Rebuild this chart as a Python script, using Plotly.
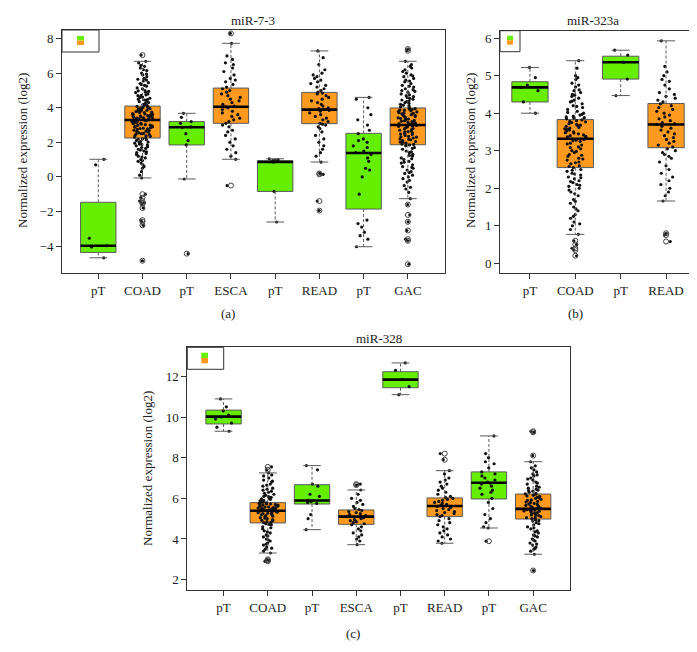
import plotly.graph_objects as go

FONT = "Liberation Serif, Times New Roman, serif"
GREEN = "#66EE00"
ORANGE = "#FF9A1F"
EDGE = "#5a5a5a"
W, H = 697, 652

# ---------------- Panel (a) miR-7-3 ----------------
a_categories = ["pT", "COAD", "pT", "ESCA", "pT", "READ", "pT", "GAC"]
a_kind = ["n", "t", "n", "t", "n", "t", "n", "t"]
a_lower = [-4.68, -0.06, -0.12, 1.02, -2.61, 0.86, -4.04, -1.26]
a_q1 = [-4.37, 2.25, 1.85, 3.10, -0.84, 3.08, -1.86, 1.86]
a_median = [-3.98, 3.29, 2.87, 4.06, 0.86, 3.89, 1.38, 3.00]
a_q3 = [-1.47, 4.10, 3.20, 5.14, 0.94, 4.89, 2.52, 3.99]
a_upper = [1.02, 6.69, 3.68, 7.73, 1.05, 7.29, 4.60, 6.69]

a_pt1 = [1.02, 0.7, -3.55, -3.98, -4.05, -4.68]
a_coad = [7.05, 6.69, 6.6, 6.4, 6.3, 6.2, 6.15, 6.0, 5.95, 5.8, 5.7, 5.6, 5.55, 5.4, 5.3, 5.25, 5.1, 5.0,
          4.95, 4.9, 4.8, 4.75, 4.7, 4.6, 4.55, 4.5, 4.45, 4.35, 4.3, 4.2, 4.15,
          4.08, 4.05, 4.0, 3.98, 3.95, 3.9, 3.88, 3.85, 3.8, 3.78, 3.75, 3.72, 3.7, 3.66, 3.62, 3.6, 3.57,
          3.55, 3.52, 3.5, 3.47, 3.45, 3.42, 3.4, 3.38, 3.35, 3.33, 3.3,
          3.27, 3.25, 3.22, 3.2, 3.15, 3.12, 3.1, 3.05, 3.02, 3.0, 2.95, 2.92, 2.9, 2.85, 2.82, 2.8, 2.75,
          2.7, 2.68, 2.65, 2.6, 2.55, 2.52, 2.5, 2.45, 2.4, 2.35, 2.3, 2.27,
          2.2, 2.15, 2.1, 2.05, 2.0, 1.95, 1.9, 1.85, 1.8, 1.7, 1.65, 1.6, 1.5, 1.45, 1.4, 1.3, 1.2, 1.1,
          1.0, 0.9, 0.8, 0.7, 0.5, 0.3, 0.1, -0.06, -1.0, -1.2, -1.4, -1.5, -1.55, -1.8, -2.5, -2.6, -2.8, -4.85]
a_coad_more = [6.45, 5.9, 5.65, 5.45, 5.35, 5.15, 4.98, 4.88, 4.72, 4.62, 4.48, 4.38, 4.25, 4.12, 4.02,
               3.93, 3.83, 3.73, 3.64, 3.53, 3.44, 3.36, 3.28, 3.18, 3.08, 2.98, 2.88, 2.78, 2.62,
               2.48, 2.38, 2.18, 2.02, 1.88, 1.75, 1.55, 1.35, 1.15, 0.95, 0.6]
a_pt2 = [3.68, 3.45, 3.2, 3.1, 2.9, 2.87, 2.5, 2.1, 1.85, -0.12, -4.44]
a_esca = [8.3, 7.73, 7.0, 6.8, 6.6, 6.5, 6.3, 6.1, 5.9, 5.7, 5.6, 5.5, 5.35, 5.2, 5.1, 5.0, 4.9, 4.8, 4.7,
          4.6, 4.5, 4.4, 4.3, 4.2, 4.1, 4.05, 4.0, 3.9, 3.8, 3.7, 3.6, 3.5, 3.4, 3.3, 3.2, 3.1, 3.0, 2.9,
          2.7, 2.6, 2.4, 2.2, 2.0, 1.8, 1.6, 1.4, 1.2, 1.02, -0.5]
a_pt3 = [1.05, 1.0, 0.97, 0.94, 0.9, 0.86, -0.84, -2.61]
a_read = [7.29, 6.9, 6.5, 6.2, 6.0, 5.9, 5.8, 5.7, 5.6, 5.5, 5.4, 5.3, 5.2, 5.1, 5.0, 4.9, 4.85, 4.8, 4.7,
          4.6, 4.5, 4.4, 4.3, 4.2, 4.1, 4.0, 3.95, 3.9, 3.85, 3.8, 3.7, 3.6, 3.5, 3.4, 3.3, 3.2, 3.1, 3.05,
          3.0, 2.9, 2.8, 2.6, 2.4, 2.2, 2.0, 1.8, 1.6, 1.4, 1.2, 0.86, 0.2, 0.15, -1.4, -1.95]
a_pt4 = [4.6, 4.5, 4.0, 3.6, 3.3, 3.0, 2.7, 2.5, 2.2, 2.1, 2.0, 1.8, 1.7, 1.5, 1.4, 1.3, 1.1, 0.9, 0.5,
         0.4, 0.0, -1.0, -2.5, -2.7, -2.9, -3.2, -3.4, -3.6, -4.04]
a_gac = [7.4, 7.3, 6.69, 6.5, 6.4, 6.2, 6.1, 6.0, 5.9, 5.8, 5.7, 5.6, 5.5, 5.4, 5.3, 5.2, 5.1, 5.0, 4.9,
         4.8, 4.75, 4.7, 4.6, 4.5, 4.45, 4.4, 4.3, 4.25, 4.2, 4.1, 4.05,
         3.97, 3.95, 3.9, 3.87, 3.85, 3.8, 3.76, 3.72, 3.7, 3.65, 3.6, 3.57, 3.55, 3.5, 3.45, 3.42, 3.4,
         3.35, 3.3, 3.27, 3.25, 3.2, 3.15, 3.12, 3.1, 3.05, 3.02,
         2.98, 2.95, 2.9, 2.85, 2.8, 2.75, 2.7, 2.65, 2.6, 2.55, 2.5, 2.45, 2.4, 2.35, 2.3, 2.25, 2.2,
         2.15, 2.1, 2.05, 2.0, 1.95, 1.9, 1.88,
         1.8, 1.7, 1.6, 1.5, 1.4, 1.3, 1.2, 1.1, 1.0, 0.9, 0.8, 0.7, 0.6, 0.5, 0.4, 0.3, 0.2, 0.1, 0.0,
         -0.1, -0.3, -0.5, -0.7, -0.9, -1.26, -1.6, -2.2, -2.6, -3.1, -3.6, -3.7, -5.05]
a_gac_more = [6.3, 5.85, 5.55, 5.25, 5.05, 4.95, 4.65, 4.55, 4.35, 4.15, 3.92, 3.82, 3.68, 3.52, 3.38,
              3.22, 3.08, 2.92, 2.78, 2.62, 2.48, 2.32, 2.18, 2.02, 1.85, 1.65, 1.45, 1.25, 1.05, 0.85,
              0.55, 0.25, -0.2, -0.6]
a_points = [a_pt1, a_coad + a_coad_more, a_pt2, a_esca, a_pt3, a_read, a_pt4, a_gac + a_gac_more]
a_yticks = [-4, -2, 0, 2, 4, 6, 8]

# ---------------- Panel (b) miR-323a ----------------
b_categories = ["pT", "COAD", "pT", "READ"]
b_kind = ["n", "t", "n", "t"]
b_lower = [4.00, 0.77, 4.47, 1.66]
b_q1 = [4.30, 2.55, 4.91, 3.08]
b_median = [4.69, 3.32, 5.36, 3.70]
b_q3 = [4.84, 3.83, 5.52, 4.26]
b_upper = [5.22, 5.40, 5.68, 5.93]

b_pt1 = [5.22, 4.95, 4.75, 4.69, 4.6, 4.3, 4.0]
b_coad = [5.4, 5.2, 5.0, 4.9, 4.8, 4.7, 4.6, 4.55, 4.5, 4.45, 4.4, 4.35, 4.3, 4.25, 4.2, 4.15, 4.1, 4.05,
          4.0, 3.97, 3.95, 3.92, 3.9, 3.87, 3.85, 3.82, 3.8, 3.77, 3.75, 3.72, 3.7, 3.67, 3.65, 3.62, 3.6,
          3.57, 3.55, 3.52, 3.5, 3.47, 3.45, 3.42, 3.4, 3.37, 3.35, 3.33, 3.3, 3.27, 3.25, 3.2, 3.15, 3.1,
          3.05, 3.0, 2.95, 2.9, 2.85, 2.8, 2.75, 2.7, 2.65, 2.6, 2.55, 2.5, 2.45, 2.4, 2.35, 2.3, 2.25,
          2.2, 2.15, 2.1, 2.05, 2.0, 1.9, 1.8, 1.7, 1.6, 1.5, 1.4, 1.3, 1.2, 1.1, 1.0, 0.9, 0.77,
          0.6, 0.5, 0.4, 0.35, 0.2]
b_coad_more = [4.95, 4.75, 4.62, 4.48, 4.32, 4.18, 4.02, 3.88, 3.78, 3.68, 3.58, 3.48, 3.38, 3.28, 3.18,
               3.08, 2.98, 2.88, 2.78, 2.68, 2.58, 2.48, 2.38, 2.28, 2.18, 2.08, 1.95, 1.85, 1.65, 1.45,
               1.25, 1.05]
b_pt2 = [5.68, 5.55, 5.36, 4.91, 4.47]
b_read = [5.93, 5.25, 5.1, 5.0, 4.9, 4.85, 4.75, 4.65, 4.55, 4.5, 4.45, 4.4, 4.35, 4.3, 4.25, 4.2, 4.15,
          4.1, 4.05, 4.0, 3.95, 3.9, 3.85, 3.8, 3.75, 3.72, 3.7, 3.65, 3.6, 3.55, 3.5, 3.45, 3.4, 3.35,
          3.3, 3.25, 3.2, 3.15, 3.1, 3.05, 3.0, 2.95, 2.9, 2.85, 2.8, 2.7, 2.6, 2.5, 2.4, 2.3, 2.2, 2.1,
          2.0, 1.9, 1.8, 1.66, 0.8, 0.75, 0.58]
b_points = [b_pt1, b_coad + b_coad_more, b_pt2, b_read]
b_yticks = [0, 1, 2, 3, 4, 5, 6]

# ---------------- Panel (c) miR-328 ----------------
c_categories = ["pT", "COAD", "pT", "ESCA", "pT", "READ", "pT", "GAC"]
c_kind = ["n", "t", "n", "t", "n", "t", "n", "t"]
c_lower = [9.30, 3.31, 4.46, 3.72, 11.10, 3.79, 4.54, 3.25]
c_q1 = [9.66, 4.79, 5.72, 4.72, 11.44, 5.10, 5.97, 4.98]
c_median = [10.02, 5.39, 5.89, 5.10, 11.84, 5.62, 6.77, 5.48]
c_q3 = [10.34, 5.79, 6.67, 5.43, 12.23, 6.02, 7.30, 6.21]
c_upper = [10.89, 7.25, 7.61, 6.41, 12.66, 7.36, 9.07, 7.80]

c_pt1 = [10.89, 10.5, 10.3, 10.1, 10.0, 9.9, 9.7, 9.5, 9.3]
c_coad = [7.55, 7.4, 7.25, 7.1, 7.0, 6.9, 6.8, 6.7, 6.6, 6.5, 6.4, 6.35, 6.3, 6.2, 6.15, 6.1, 6.05, 6.0,
          5.95, 5.9, 5.85, 5.82, 5.78, 5.75, 5.72, 5.7, 5.67, 5.65, 5.62, 5.6, 5.57, 5.55, 5.52, 5.5,
          5.47, 5.45, 5.42, 5.4, 5.37, 5.35, 5.32, 5.3, 5.27, 5.25, 5.2, 5.15, 5.1, 5.05, 5.0, 4.95, 4.9,
          4.85, 4.8, 4.75, 4.7, 4.6, 4.5, 4.4, 4.3, 4.2, 4.1, 4.0, 3.9, 3.8, 3.7, 3.6, 3.5, 3.4, 3.31,
          3.0, 2.95, 2.9]
c_coad_more = [7.15, 6.85, 6.65, 6.45, 6.25, 6.08, 5.98, 5.88, 5.8, 5.73, 5.68, 5.63, 5.58, 5.53, 5.48,
               5.43, 5.38, 5.33, 5.28, 5.22, 5.12, 5.02, 4.92, 4.82, 4.72, 4.55, 4.35, 4.15, 3.95, 3.75,
               3.55]
c_pt2 = [7.61, 7.4, 6.7, 6.6, 6.2, 6.1, 5.9, 5.85, 5.8, 5.75, 5.2, 5.0, 4.46]
c_esca = [6.7, 6.65, 6.41, 6.2, 6.0, 5.9, 5.8, 5.7, 5.6, 5.5, 5.45, 5.4, 5.35, 5.3, 5.25, 5.2, 5.15,
          5.12, 5.1, 5.05, 5.0, 4.95, 4.9, 4.85, 4.8, 4.75, 4.7, 4.6, 4.5, 4.4, 4.3, 4.2, 4.1, 4.0, 3.9, 3.72]
c_pt3 = [12.66, 12.3, 11.84, 11.5, 11.1]
c_read = [8.2, 7.9, 7.36, 7.2, 7.0, 6.9, 6.8, 6.7, 6.6, 6.5, 6.4, 6.3, 6.2, 6.1, 6.05, 6.0, 5.95, 5.9,
          5.85, 5.8, 5.75, 5.7, 5.65, 5.6, 5.55, 5.5, 5.45, 5.4, 5.35, 5.3, 5.25, 5.2, 5.15, 5.1, 5.0,
          4.9, 4.8, 4.7, 4.6, 4.5, 4.4, 4.3, 4.2, 4.1, 4.0, 3.9, 3.79]
c_pt4 = [9.07, 8.2, 8.0, 7.8, 7.7, 7.5, 7.3, 7.2, 7.1, 7.0, 6.9, 6.8, 6.75, 6.7, 6.6, 6.5, 6.4, 6.3,
         6.2, 6.0, 5.8, 5.5, 5.2, 5.0, 4.8, 4.6, 4.54, 3.89]
c_gac = [9.3, 9.25, 8.1, 7.8, 7.6, 7.4, 7.3, 7.2, 7.1, 7.0, 6.9, 6.8, 6.7, 6.6, 6.5, 6.45, 6.4, 6.35,
         6.3, 6.25, 6.2, 6.15, 6.1, 6.05, 6.0, 5.95, 5.9, 5.85, 5.8, 5.75, 5.7, 5.65, 5.6, 5.55, 5.5,
         5.47, 5.45, 5.42, 5.4, 5.37, 5.35, 5.3, 5.25, 5.2, 5.15, 5.1, 5.05, 5.0, 4.95, 4.9, 4.8, 4.7,
         4.6, 4.5, 4.4, 4.3, 4.2, 4.1, 4.0, 3.9, 3.8, 3.7, 3.6, 3.5, 3.4, 3.25, 2.45]
c_gac_more = [7.5, 7.15, 6.95, 6.75, 6.55, 6.38, 6.22, 6.12, 6.02, 5.92, 5.82, 5.72, 5.62, 5.52, 5.44,
              5.38, 5.28, 5.18, 5.08, 4.98, 4.88, 4.75, 4.55, 4.35, 4.15, 3.95, 3.75, 3.55]
c_points = [c_pt1, c_coad + c_coad_more, c_pt2, c_esca, c_pt3, c_read, c_pt4, c_gac + c_gac_more]
c_yticks = [2, 4, 6, 8, 10, 12]


def px(x, y):
    return x / W, 1 - y / H


fig = go.Figure()


def add_panel(xa, ya, kinds, lower, q1, med, q3, upper, points):
    n = len(kinds)
    for i in range(n):
        pos = i + 1
        fill = GREEN if kinds[i] == "n" else ORANGE
        fig.add_trace(go.Box(
            x=[pos], q1=[q1[i]], median=[med[i]], q3=[q3[i]],
            lowerfence=[q1[i]], upperfence=[q3[i]], width=0.8,
            fillcolor=fill, line=dict(color=EDGE, width=1), whiskerwidth=0,
            boxpoints=False, xaxis=xa, yaxis=ya, hoverinfo="skip"))
    wx, wy, cx, cy, mx, my = [], [], [], [], [], []
    ox, oy = [], []
    for i in range(n):
        pos = i + 1
        wx += [pos, pos, None, pos, pos, None]
        wy += [q3[i], upper[i], None, q1[i], lower[i], None]
        cx += [pos - 0.2, pos + 0.2, None, pos - 0.2, pos + 0.2, None]
        cy += [upper[i], upper[i], None, lower[i], lower[i], None]
        mx += [pos - 0.4, pos + 0.4, None]
        my += [med[i], med[i], None]
        for v in points[i]:
            if v > upper[i] + 1e-9 or v < lower[i] - 1e-9:
                ox.append(pos)
                oy.append(v)
    fig.add_trace(go.Scatter(x=wx, y=wy, mode="lines", xaxis=xa, yaxis=ya,
                             line=dict(color=EDGE, width=1, dash="3px,2px"), hoverinfo="skip"))
    fig.add_trace(go.Scatter(x=cx, y=cy, mode="lines", xaxis=xa, yaxis=ya,
                             line=dict(color=EDGE, width=1), hoverinfo="skip"))
    fig.add_trace(go.Scatter(x=mx, y=my, mode="lines", xaxis=xa, yaxis=ya,
                             line=dict(color="black", width=2.6), hoverinfo="skip"))
    fig.add_trace(go.Scatter(x=ox, y=oy, mode="markers", xaxis=xa, yaxis=ya,
                             marker=dict(symbol="circle-open", size=5, color="#444",
                                         line=dict(width=1)), hoverinfo="skip"))
    px_, py_ = [], []
    for i in range(n):
        px_ += [i + 1] * len(points[i])
        py_ += points[i]
    fig.add_trace(go.Box(x=px_, y=py_, boxpoints="all", jitter=0.6, pointpos=0, width=0.8,
                         fillcolor="rgba(0,0,0,0)", line=dict(width=0, color="rgba(0,0,0,0)"),
                         marker=dict(color="#111", size=3.2), xaxis=xa, yaxis=ya, hoverinfo="skip"))


add_panel("x", "y", a_kind, a_lower, a_q1, a_median, a_q3, a_upper, a_points)
add_panel("x2", "y2", b_kind, b_lower, b_q1, b_median, b_q3, b_upper, b_points)
add_panel("x3", "y3", c_kind, c_lower, c_q1, c_median, c_q3, c_upper, c_points)

tickfont = dict(family=FONT, size=13, color="#222")


def xaxis(dom, cats, anchor, rng, mirror=True):
    return dict(domain=dom, anchor=anchor, range=rng, tickmode="array",
                tickvals=list(range(1, len(cats) + 1)), ticktext=cats,
                ticks="outside", ticklen=5, tickcolor="#333", showline=True, linecolor="#333",
                linewidth=1, mirror=mirror, showgrid=False, zeroline=False, tickfont=tickfont)


def yaxis(dom, ticks, anchor, rng, mirror=True):
    return dict(domain=dom, anchor=anchor, range=rng, tickmode="array", tickvals=ticks,
                ticks="outside", ticklen=5, tickcolor="#333", showline=True, linecolor="#333",
                linewidth=1, mirror=mirror, showgrid=False, zeroline=False, tickfont=tickfont)


ax_a = [54 / W, 437 / W]
ay_a = [1 - 265 / H, 1 - 22 / H]
ax_b = [492 / W, 688 / W]
ay_b = [1 - 265 / H, 1 - 22.7 / H]
ax_c = [179.3 / W, 562.3 / W]
ay_c = [1 - 582 / H, 1 - 339.3 / H]

annotations = []


def ann(text, x, y, angle=0, size=13):
    xx, yy = px(x, y)
    annotations.append(dict(text=text, x=xx, y=yy, xref="paper", yref="paper", showarrow=False,
                            textangle=angle, font=dict(family=FONT, size=size, color="#222"),
                            xanchor="center", yanchor="middle"))


ann("miR-7-3", 245, 13)
ann("miR-323a", 585, 13)
ann("miR-328", 371, 330)
ann("(a)", 220, 306)
ann("(b)", 567, 306)
ann("(c)", 345, 625)
ylabel = "Normalized expression (log2)"
ann(ylabel, 15, 143, angle=-90)
ann(ylabel, 463, 143, angle=-90)
ann(ylabel, 139, 461, angle=-90)

shapes = []


def rect(x0, y0, x1, y1, fill=None, line=True):
    a0, b0 = px(x0, y0)
    a1, b1 = px(x1, y1)
    shapes.append(dict(type="rect", xref="paper", yref="paper", x0=a0, y0=b1, x1=a1, y1=b0,
                       fillcolor=fill if fill else "rgba(0,0,0,0)",
                       line=dict(color="#333", width=1) if line else dict(width=0)))


for (bx0, by0, bx1, by1, sx0, sy0, sx1, sy1) in [
        (54, 22, 91, 44, 69, 28, 76, 37),
        (492, 22.7, 512, 43.7, 499, 27.7, 505, 36.7),
        (179.3, 339.3, 215.7, 361.3, 193.3, 344.7, 200, 355.3)]:
    rect(bx0, by0, bx1, by1)
    mid = (sy0 + sy1) / 2
    rect(sx0, sy0, sx1, mid, fill=GREEN, line=False)
    rect(sx0, mid, sx1, sy1, fill=ORANGE, line=False)

fig.update_layout(
    width=W, height=H, margin=dict(l=0, r=0, t=0, b=0),
    paper_bgcolor="white", plot_bgcolor="white", showlegend=False, boxmode="overlay",
    xaxis=xaxis(ax_a, a_categories, "y", [0.18, 8.84]),
    yaxis=yaxis(ay_a, a_yticks, "x", [-5.56, 8.5]),
    xaxis2=xaxis(ax_b, b_categories, "y2", [0.34, 4.66]),
    yaxis2=yaxis(ay_b, b_yticks, "x2", [-0.26, 6.2], mirror=False),
    xaxis3=xaxis(ax_c, c_categories, "y3", [0.18, 8.84]),
    yaxis3=yaxis(ay_c, c_yticks, "x3", [1.49, 13.43]),
    annotations=annotations, shapes=shapes,
)

fig.write_html("out.html")
